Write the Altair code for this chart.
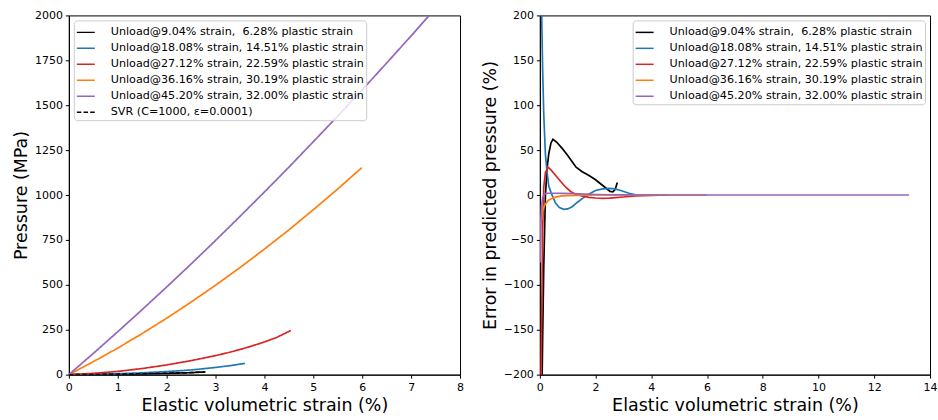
import altair as alt
import pandas as pd

FONT = "DejaVu Sans"

LABELS = [
    "Unload@9.04% strain,\u00a0 6.28% plastic strain",
    "Unload@18.08% strain, 14.51% plastic strain",
    "Unload@27.12% strain, 22.59% plastic strain",
    "Unload@36.16% strain, 30.19% plastic strain",
    "Unload@45.20% strain, 32.00% plastic strain",
]
SVR_LABEL = "SVR (C=1000, \u03b5=0.0001)"
COLORS = ["#000000", "#1f77b4", "#d62728", "#ff7f0e", "#9467bd"]

# ---- Left panel: pressure vs elastic volumetric strain ----
p_black_x = [0, 0.5, 1.0, 1.5, 2.0, 2.5, 2.79]
p_black_y = [0, 0.6, 2, 4, 7, 11, 15]
p_blue_x = [0, 0.5, 1.0, 1.5, 2.0, 2.5, 3.0, 3.3, 3.6]
p_blue_y = [0, 1.5, 5, 10, 17, 26, 40, 50, 63]
p_red_x = [0, 0.5, 1.0, 1.5, 2.0, 2.5, 3.0, 3.25, 3.5, 3.75, 4.0, 4.25, 4.54]
p_red_y = [0, 7, 18, 34, 54, 78, 106, 122, 140, 160, 182, 207, 246]
p_orange_x = [0, 0.5, 1.0, 1.5, 2.0, 2.5, 3.0, 3.5, 4.0, 4.5, 5.0, 5.5, 5.99]
p_orange_y = [0, 72, 148, 229, 314, 404, 498, 596, 699, 806, 918, 1034, 1152]
p_purple_x = [0, 0.5, 1.0, 1.5, 2.0, 2.5, 3.0, 3.5, 4.0, 4.5, 5.0, 5.5, 6.0,
              6.5, 7.0, 7.5, 8.0, 9.0, 10.0, 11.0, 12.0, 13.25]
p_purple_y = [0, 118, 239, 362, 488, 616, 747, 881, 1017, 1155, 1297, 1440, 1586,
              1735, 1886, 2040, 2197, 2517, 2848, 3189, 3540, 3993]
# SVR prediction (dashed) for the first unloading curve
svr_black_x = [0, 0.5, 1.0, 1.5, 2.0, 2.5, 2.79]
svr_black_y = [0, 0.95, 2.9, 5.0, 8.2, 11.4, 16]

# ---- Right panel: error in predicted pressure ----
e_black_x = [0.07, 0.1, 0.14, 0.2, 0.26, 0.32, 0.4, 0.47, 0.6, 0.8, 1.0, 1.16, 1.3,
             1.52, 1.75, 2.0, 2.2, 2.4, 2.52, 2.62, 2.7, 2.78]
e_black_y = [-230, -160, -80, 0, 30, 46, 58, 62, 59, 52, 44, 37, 31,
             26, 22, 17, 12, 7, 4, 3.5, 6, 14]
e_blue_x = [0.03, 0.06, 0.1, 0.14, 0.2, 0.26, 0.32, 0.4, 0.56, 0.7, 0.86, 1.0, 1.16,
            1.35, 1.52, 1.75, 2.0, 2.25, 2.48, 2.7, 2.9, 3.2, 3.44, 3.6]
e_blue_y = [330, 210, 140, 90, 45, 25, 10, 3, -9, -14, -16, -15.5, -13,
            -8, -4, 1, 5, 6.8, 7.4, 6.8, 5, 2, 0.3, 0]
e_red_x = [0.03, 0.06, 0.1, 0.14, 0.2, 0.29, 0.4, 0.56, 0.75, 0.92, 1.1, 1.28, 1.5,
           1.76, 2.0, 2.24, 2.5, 2.72, 3.0, 3.44, 4.0, 4.54]
e_red_y = [-260, -150, -40, 9, 25, 31, 28, 22, 15, 9, 4, 1, -1,
           -2.6, -3.3, -3.7, -3.5, -3, -2.2, -1, -0.3, 0]
e_orange_x = [0.02, 0.04, 0.08, 0.14, 0.2, 0.3, 0.44, 0.6, 0.8, 1.0, 1.3, 1.6, 2.0,
              3.0, 4.0, 5.0, 5.99]
e_orange_y = [-60, -32, -20, -14, -10, -6, -3.7, -2, -1, -0.6, -0.3, -0.1, 0,
              0, 0, 0, 0]
e_purple_x = [0.01, 0.03, 0.06, 0.1, 0.15, 0.2, 0.3, 0.5, 0.8, 1.2, 1.6, 2.0, 2.5,
              3.0, 4.0, 6.0, 8.0, 10.0, 12.0, 13.25]
e_purple_y = [-75, -35, -12, -3, 0.5, 1.5, 2, 2, 1.8, 1.5, 1, 0.6, 0.3,
              0.1, 0, 0, 0, 0, 0, 0]

P_SERIES = [(p_black_x, p_black_y), (p_blue_x, p_blue_y), (p_red_x, p_red_y),
            (p_orange_x, p_orange_y), (p_purple_x, p_purple_y)]
E_SERIES = [(e_black_x, e_black_y), (e_blue_x, e_blue_y), (e_red_x, e_red_y),
            (e_orange_x, e_orange_y), (e_purple_x, e_purple_y)]


def frame(xs, ys, label):
    return pd.DataFrame({"x": xs, "y": ys, "series": label,
                         "idx": list(range(len(xs)))})


LEFT_DOMAIN = LABELS + [SVR_LABEL]
left_color = alt.Scale(domain=LEFT_DOMAIN, range=COLORS + ["#000000"])
left_dash = alt.Scale(domain=LEFT_DOMAIN,
                      range=[[1, 0]] * 5 + [[4.5, 2.2]])
right_color = alt.Scale(domain=LABELS, range=COLORS)


def legend(orient):
    return alt.Legend(
        title=None, orient=orient, offset=5, symbolType="stroke",
        symbolSize=324, symbolStrokeWidth=1.5, labelFontSize=11.2,
        labelFont=FONT, labelColor="#000000", labelLimit=500,
        labelOffset=15, rowPadding=-3.7, padding=2, cornerRadius=3,
        fillColor="rgba(255,255,255,0.8)", strokeColor="#cccccc",
    )


left_x = alt.X("x:Q", title="Elastic volumetric strain (%)",
               scale=alt.Scale(domain=[0, 8], nice=False, zero=False),
               axis=alt.Axis(values=list(range(0, 9)), format="d"))
left_y = alt.Y("y:Q", title="Pressure (MPa)",
               scale=alt.Scale(domain=[0, 2000], nice=False),
               axis=alt.Axis(values=list(range(0, 2001, 250)), format="d"))

left_layers = []
for (xs, ys), lab in zip(P_SERIES, LABELS):
    left_layers.append(
        alt.Chart(frame(xs, ys, lab)).mark_line(clip=True, strokeWidth=1.7).encode(
            x=left_x, y=left_y,
            order="idx:Q",
            color=alt.Color("series:N", scale=left_color, legend=legend("top-left")),
            strokeDash=alt.StrokeDash("series:N", scale=left_dash, legend=legend("top-left")),
        )
    )
left_layers.append(
    alt.Chart(frame(svr_black_x, svr_black_y, SVR_LABEL)).mark_line(
        clip=True, strokeWidth=1.5).encode(
        x=left_x, y=left_y, order="idx:Q",
        color=alt.Color("series:N", scale=left_color, legend=legend("top-left")),
        strokeDash=alt.StrokeDash("series:N", scale=left_dash, legend=legend("top-left")),
    )
)
left = alt.layer(*left_layers).properties(width=392, height=360)

right_x = alt.X("x:Q", title="Elastic volumetric strain (%)",
                scale=alt.Scale(domain=[0, 14], nice=False, zero=False),
                axis=alt.Axis(values=list(range(0, 15, 2)), format="d"))
right_y = alt.Y("y:Q", title="Error in predicted pressure (%)",
                scale=alt.Scale(domain=[-200, 200], nice=False),
                axis=alt.Axis(values=list(range(-200, 201, 50)), format="d"))

right_layers = []
for (xs, ys), lab in zip(E_SERIES, LABELS):
    right_layers.append(
        alt.Chart(frame(xs, ys, lab)).mark_line(clip=True, strokeWidth=1.7).encode(
            x=right_x, y=right_y, order="idx:Q",
            color=alt.Color("series:N", scale=right_color, legend=legend("top-right")),
        )
    )
right = alt.layer(*right_layers).properties(width=391, height=360)

chart = alt.hconcat(left, right, spacing=80, bounds="flush").resolve_scale(
    color="independent", strokeDash="independent"
).resolve_legend(
    color="independent", strokeDash="independent"
).properties(
    padding={"left": 12, "top": 8, "right": 0, "bottom": 0},
    background="#ffffff",
).configure_view(
    stroke="#000000", strokeWidth=1
).configure_axis(
    grid=False, domainColor="#000000", domainWidth=1, tickColor="#000000",
    tickWidth=1, tickSize=3.5, labelFont=FONT, labelFontSize=11,
    labelColor="#000000", labelPadding=3, titleFont=FONT, titleFontSize=17.5,
    titleFontWeight="normal", titleColor="#000000", titlePadding=4,
    labelFlush=False, labelOverlap=False,
)

chart.save("out.html", embed_options={"renderer": "svg", "actions": False})
